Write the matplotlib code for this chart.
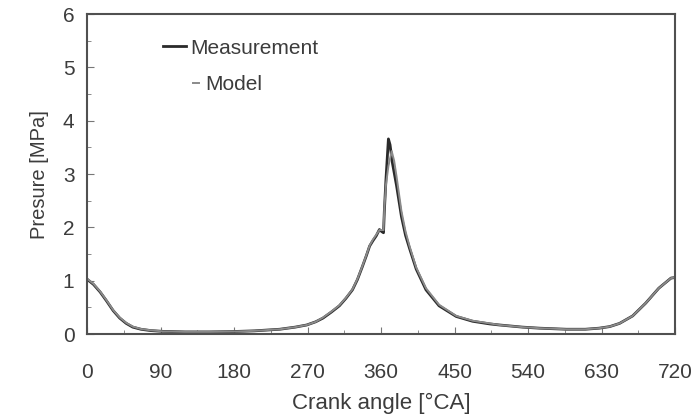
import matplotlib
matplotlib.use("Agg")
import matplotlib.pyplot as plt
from matplotlib.ticker import MultipleLocator

plt.rcParams['font.family'] = ['Liberation Sans', 'DejaVu Sans']

# Measurement
meas_angle = [0, 8, 16, 24, 32, 40, 48, 56, 66, 78, 93, 120, 150, 175, 205, 236, 255, 269, 280,
              289, 299, 309, 317, 325, 331, 337, 342, 346, 350, 354, 358, 361, 363, 364, 366,
              369, 371, 374, 379, 385, 390, 395, 403, 415, 431, 452, 472, 493, 505, 533, 554,
              587, 610, 627, 640, 652, 668, 684, 700, 715, 720]
meas_p = [1.03, 0.93, 0.79, 0.62, 0.44, 0.30, 0.20, 0.13, 0.09, 0.065, 0.05, 0.04, 0.04, 0.045,
          0.06, 0.09, 0.13, 0.17, 0.23, 0.30, 0.41, 0.53, 0.67, 0.83, 1.02, 1.26, 1.47, 1.65,
          1.75, 1.84, 1.96, 1.92, 1.90, 2.30, 2.90, 3.66, 3.55, 3.20, 2.78, 2.20, 1.85, 1.60,
          1.22, 0.83, 0.53, 0.33, 0.24, 0.19, 0.17, 0.13, 0.11, 0.09, 0.09, 0.11, 0.14, 0.20,
          0.34, 0.58, 0.86, 1.05, 1.06]

# Model
model_angle = [0, 8, 16, 24, 32, 40, 48, 56, 66, 78, 93, 120, 150, 175, 205, 236, 255, 269, 280,
               289, 299, 309, 317, 325, 331, 337, 342, 346, 350, 354, 358, 361, 363, 364, 366,
               369, 373, 376, 379, 385, 390, 395, 403, 415, 431, 452, 472, 493, 505, 533, 554,
               587, 610, 627, 640, 652, 668, 684, 700, 715, 720]
model_p = [1.04, 0.94, 0.80, 0.63, 0.45, 0.31, 0.21, 0.14, 0.095, 0.07, 0.05, 0.04, 0.04, 0.045,
           0.06, 0.09, 0.13, 0.17, 0.23, 0.31, 0.42, 0.54, 0.68, 0.84, 1.03, 1.27, 1.48, 1.66,
           1.77, 1.86, 1.95, 1.95, 1.95, 2.35, 2.80, 3.15, 3.43, 3.25, 2.95, 2.30, 1.92, 1.64,
           1.25, 0.86, 0.55, 0.34, 0.25, 0.20, 0.17, 0.13, 0.11, 0.09, 0.09, 0.11, 0.14, 0.20,
           0.34, 0.58, 0.86, 1.05, 1.06]

xticks = [0, 90, 180, 270, 360, 450, 540, 630, 720]
yticks = [0, 1, 2, 3, 4, 5, 6]

fig = plt.figure(figsize=(6.96, 4.16), dpi=100)
ax = fig.add_axes([0.125, 0.197, 0.845, 0.769])

txt = '#3c3c3c'
l1, = ax.plot(meas_angle, meas_p, color='#2a2a2a', lw=2.0, label='Measurement')
l2, = ax.plot(model_angle, model_p, color='#8a8a8a', lw=1.4, label='Model')

ax.set_xlim(0, 720)
ax.set_ylim(0, 6)
ax.set_xticks(xticks)
ax.set_yticks(yticks)
ax.xaxis.set_minor_locator(MultipleLocator(45))
ax.yaxis.set_minor_locator(MultipleLocator(0.5))
ax.tick_params(which='both', direction='in', colors='#777777', labelcolor=txt, labelsize=15)
ax.tick_params(which='major', length=5)
ax.tick_params(which='minor', length=3)
ax.tick_params(axis='x', pad=21)
ax.tick_params(axis='y', pad=9)
for s in ax.spines.values():
    s.set_color('#505050')
    s.set_linewidth(1.5)

ax.set_xlabel('Crank angle [°CA]', fontsize=16, color=txt, labelpad=8)
ax.set_ylabel('Presure [MPa]', fontsize=14.5, color=txt, labelpad=10)

leg1 = ax.legend([l1], ['Measurement'], loc='center left',
                 bbox_to_anchor=(163 / 696, 1 - 48 / 416), bbox_transform=fig.transFigure,
                 frameon=False, borderpad=0, borderaxespad=0,
                 handlelength=1.1, handletextpad=0.2, fontsize=15, labelcolor=txt)
ax.add_artist(leg1)
leg2 = ax.legend([l2], ['Model'], loc='center left',
                 bbox_to_anchor=(193 / 696, 1 - 85 / 416), bbox_transform=fig.transFigure,
                 frameon=False, borderpad=0, borderaxespad=0,
                 handlelength=0.3, handletextpad=0.3, fontsize=15, labelcolor=txt)

fig.savefig('out.png', dpi=100)
